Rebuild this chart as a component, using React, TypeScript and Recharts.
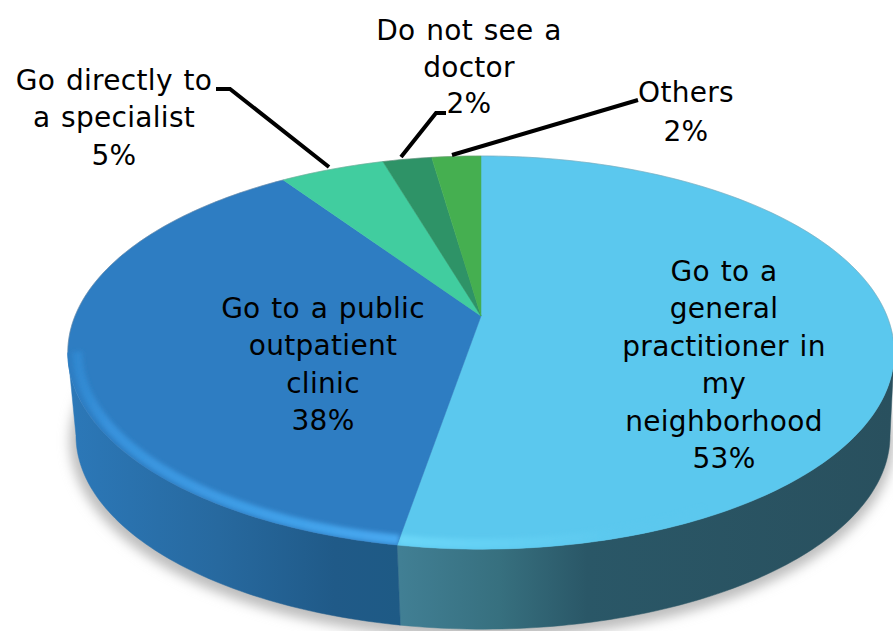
import React from "react";
import { PieChart, Pie } from "recharts";

const categories = [
  "Go to a general practitioner in my neighborhood",
  "Go to a public outpatient clinic",
  "Go directly to a specialist",
  "Do not see a doctor",
  "Others",
];
const values = [52.7, 37.8, 4.9, 2.3, 2.3];
const topColors = ["#5BC8EE", "#2E7DC2", "#41CD9F", "#2E9367", "#45AF50"];
const sideFills = ["url(#sideA)", "url(#sideB)", "#2E9367", "#226E4D", "#348340"];
const labelLines = [
  ["Go to a", "general", "practitioner in", "my", "neighborhood", "53%"],
  ["Go to a public", "outpatient", "clinic", "38%"],
  ["Go directly to", "a specialist", "5%"],
  ["Do not see a", "doctor", "2%"],
  ["Others", "2%"],
];

const W = 893;
const H = 631;
const CX = 481;
const CY = 316;
const RX = 406;
const Y_RATIO = 0.4675;
const K = 0.186;
const DEPTH = 83.5;
const SIDE_SCALE = 0.985;
const TIP_RIGHT = -10.7;
const TIP_LEFT = -169.3;
const FONT_SIZE = 28;
const LABEL_X = [724, 323, 114, 469, 686];
const LABEL_Y = [281, 318, 90, 40, 102];
const LABEL_DY = [37.4, 37.4, 37.4, 36.5, 39];
const LEADERS = [
  "",
  "",
  "M216 89 L230 89 L329 167",
  "M446 113 L436 113 L401 157",
  "M638 100 L452 155",
];

const data = categories.map((name, i) => ({ name, value: values[i], fill: topColors[i] }));

function project(deg: number, cx: number, cy: number, rx: number, scale = 1, dy = 0, dx = 0) {
  const r = (deg * Math.PI) / 180;
  const u = Math.cos(r);
  const v = Math.sin(r);
  const den = 1 + K * v;
  return [cx + dx + (scale * rx * u) / den, cy + dy - (scale * rx * Y_RATIO * v) / den];
}

function arc(a0: number, a1: number, fn: (a: number) => number[]) {
  const n = Math.max(2, Math.ceil(Math.abs(a1 - a0)));
  const out: number[][] = [];
  for (let i = 0; i <= n; i++) out.push(fn(a0 + ((a1 - a0) * i) / n));
  return out;
}
const toPath = (pts: number[][]) =>
  pts.map((p, i) => `${i ? "L" : "M"}${p[0].toFixed(2)} ${p[1].toFixed(2)}`).join(" ");

function TopShape(p: any) {
  const { cx, cy, outerRadius: r, startAngle: s, endAngle: e, fill } = p;
  const a = Math.min(s, e);
  const b = Math.max(s, e);
  const pts = arc(b, a, (t) => project(t, cx, cy, r));
  const clipId = `topClip${p.index}`;
  const rimLo = Math.max(a, TIP_LEFT);
  const rimHi = Math.min(b, -62);
  const rim = rimLo < rimHi ? arc(rimHi, rimLo, (t) => project(t, cx, cy, r, 0.977)) : null;
  const edges: string[] = [];
  if (b > TIP_RIGHT) edges.push(toPath(arc(b, Math.max(a, TIP_RIGHT), (t) => project(t, cx, cy, r))));
  if (a < TIP_LEFT) edges.push(toPath(arc(Math.min(b, TIP_LEFT), a, (t) => project(t, cx, cy, r))));
  const face = toPath(pts) + ` L${cx} ${cy} Z`;
  return (
    <g>
      <clipPath id={clipId}>
        <path d={face} />
      </clipPath>
      <path d={face} fill={fill} stroke={fill} strokeWidth={0.5} />
      {rim && (
        <g clipPath={`url(#${clipId})`}>
          <path
            d={toPath(rim)}
            fill="none"
            stroke={p.index === 0 ? "url(#rimA)" : "url(#rimB)"}
            strokeWidth={10}
            filter="url(#soft)"
          />
        </g>
      )}
      {edges.map((d, i) => (
        <path key={i} d={d} fill="none" stroke="#8f8f8f" strokeWidth={0.8} strokeOpacity={0.45} />
      ))}
    </g>
  );
}

function SideShape(p: any) {
  const { cx, cy, outerRadius: r, startAngle: s, endAngle: e, fill } = p;
  const lo = Math.max(Math.min(s, e), TIP_LEFT);
  const hi = Math.min(Math.max(s, e), TIP_RIGHT);
  if (lo >= hi) return <g />;
  const upper = arc(hi, lo, (a) => project(a, cx, cy, r));
  const lower = arc(lo, hi, (a) => project(a, cx, cy, r, SIDE_SCALE, DEPTH, 2));
  return <path d={toPath(upper) + " " + toPath(lower).replace("M", "L") + " Z"} fill={sideFills[p.index] ?? fill} stroke={sideFills[p.index] ?? fill} strokeWidth={0.5} />;
}

function ShadowShape(p: any) {
  const { cx, cy, outerRadius: r, startAngle: s, endAngle: e } = p;
  const pts = arc(s, e, (a) => project(a, cx, cy, r, 0.99, DEPTH + 5, 1));
  return <path d={toPath(pts) + ` L${cx} ${cy + DEPTH} Z`} fill="#bdbdbd" stroke="#bdbdbd" strokeWidth={6} filter="url(#shadow)" />;
}

function renderLabel(p: any) {
  const i = p.index;
  return (
    <g key={i}>
      {LEADERS[i] && <path d={LEADERS[i]} fill="none" stroke="#000" strokeWidth={4} />}
      <text
        textAnchor="middle"
        fontFamily="'DejaVu Sans', sans-serif"
        fontSize={FONT_SIZE}
        letterSpacing={0.3}
        wordSpacing={1.5}
        fill="#000"
      >
        {labelLines[i].map((t, j) => (
          <tspan key={j} x={LABEL_X[i]} y={LABEL_Y[i] + j * LABEL_DY[i]}>
            {t}
          </tspan>
        ))}
      </text>
    </g>
  );
}

export default function App() {
  const pieProps = {
    data,
    dataKey: "value",
    nameKey: "name",
    cx: CX,
    cy: CY,
    outerRadius: RX,
    startAngle: 90,
    endAngle: -270,
    stroke: "none",
    isAnimationActive: false,
    labelLine: false,
  };
  return (
    <div style={{ position: "absolute", left: 0, top: 0, width: W, height: H, overflow: "hidden", background: "#fff" }}>
      <PieChart width={W} height={H} margin={{ top: 0, right: 0, bottom: 0, left: 0 }}>
        <defs>
          <filter id="soft" filterUnits="userSpaceOnUse" x="0" y="0" width="893" height="631">
            <feGaussianBlur stdDeviation="2" />
          </filter>
          <filter id="shadow" filterUnits="userSpaceOnUse" x="0" y="0" width="893" height="700">
            <feGaussianBlur stdDeviation="6" />
          </filter>
          <linearGradient id="sideA" gradientUnits="userSpaceOnUse" x1="400" y1="0" x2="893" y2="0">
            <stop offset="0" stopColor="#417F94" />
            <stop offset="0.2" stopColor="#37707F" />
            <stop offset="0.38" stopColor="#2A5767" />
            <stop offset="1" stopColor="#29505E" />
          </linearGradient>
          <linearGradient id="sideB" gradientUnits="userSpaceOnUse" x1="70" y1="0" x2="400" y2="0">
            <stop offset="0" stopColor="#2C78B8" />
            <stop offset="0.45" stopColor="#27699F" />
            <stop offset="0.8" stopColor="#205A88" />
            <stop offset="1" stopColor="#1E5A85" />
          </linearGradient>
          <linearGradient id="rimB" gradientUnits="userSpaceOnUse" x1="70" y1="0" x2="400" y2="0">
            <stop offset="0" stopColor="#2E86CE" />
            <stop offset="0.12" stopColor="#3892DC" />
            <stop offset="0.6" stopColor="#3F9FE8" />
            <stop offset="1" stopColor="#48A8F0" />
          </linearGradient>
          <linearGradient id="rimA" gradientUnits="userSpaceOnUse" x1="400" y1="0" x2="620" y2="0">
            <stop offset="0" stopColor="#6AD6F8" />
            <stop offset="1" stopColor="#5BC8EE" />
          </linearGradient>
        </defs>
        <Pie {...pieProps} shape={ShadowShape} label={false} />
        <Pie {...pieProps} shape={SideShape} label={false} />
        <Pie {...pieProps} shape={TopShape} label={renderLabel} />
      </PieChart>
    </div>
  );
}
